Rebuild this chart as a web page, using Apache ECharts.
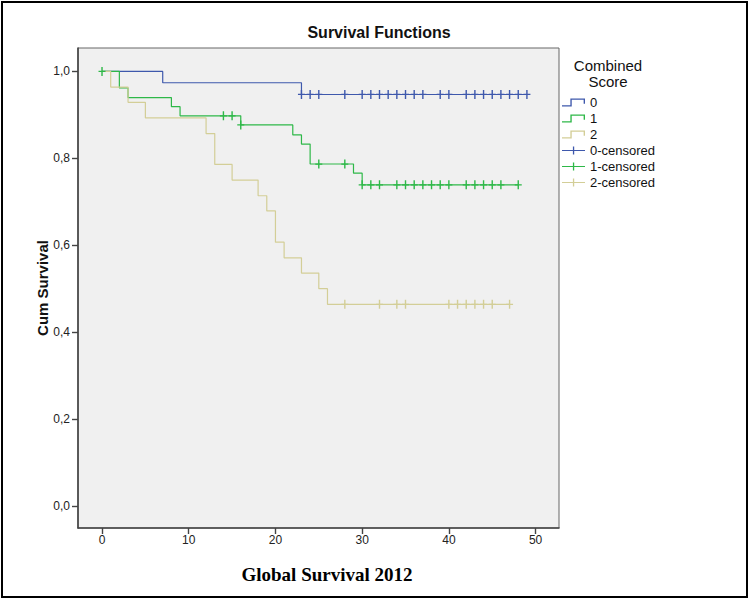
<!DOCTYPE html>
<html><head><meta charset="utf-8">
<script src="https://cdn.jsdelivr.net/npm/echarts@6/dist/echarts.min.js"></script>
<style>html,body{margin:0;padding:0;background:#fff}#c{width:750px;height:602px}</style>
</head><body><div id="c"></div>
<script>
// ---- data ----
const xTicks = [0, 10, 20, 30, 40, 50];
const yTicks = [0, 0.2, 0.4, 0.6, 0.8, 1.0];
const groupNames = ['0', '1', '2'];
const censNames = ['0-censored', '1-censored', '2-censored'];
// Kaplan-Meier steps: times and survival after the event at that time
const times0 = [0, 7, 23, 49];
const surv0  = [1, 0.974, 0.947, 0.947];
const times1 = [0, 2, 3, 8, 9, 16, 22, 23, 24, 29, 30, 48];
const surv1  = [1, 0.962, 0.940, 0.919, 0.898, 0.877, 0.854, 0.833, 0.787, 0.766, 0.739, 0.739];
const times2 = [0, 1, 3, 5, 12, 13, 15, 18, 19, 20, 21, 23, 25, 26, 47];
const surv2  = [1, 0.964, 0.929, 0.893, 0.857, 0.786, 0.750, 0.714, 0.679, 0.607, 0.571, 0.536, 0.500, 0.464, 0.464];
// censored times
const cens0 = [23, 24, 25, 28, 30, 31, 32, 33, 34, 35, 36, 37, 39, 40, 42, 43, 44, 45, 46, 47, 48, 49];
const cens1 = [0, 14, 15, 16, 25, 28, 30, 31, 32, 34, 35, 36, 37, 38, 39, 40, 42, 43, 44, 45, 46, 48];
const cens2 = [28, 32, 34, 35, 40, 41, 42, 43, 44, 45, 47];

const colors = ['#3E58AC', '#2EB848', '#D3CE97'];

function stepData(ts, ss) { return ts.map((t, i) => [t, ss[i]]); }
function survAt(ts, ss, t) { let v = ss[0]; for (let i = 0; i < ts.length; i++) { if (ts[i] <= t) v = ss[i]; } return v; }
function censData(cs, ts, ss) { return cs.map(t => [t, survAt(ts, ss, t)]); }

const stepIcon = 'path://M0,7.7 L8,7.7 L8,0 L22,0 L22,6 L20.7,6 L20.7,1.3 L9.3,1.3 L9.3,9 L0,9 Z';
const censIcon = 'path://M0,3.9 L10.9,3.9 L10.9,0 L12.2,0 L12.2,3.9 L23,3.9 L23,5.1 L12.2,5.1 L12.2,9 L10.9,9 L10.9,5.1 L0,5.1 Z';
const plusSym = 'path://M0,4.3 L3.2,4.3 L3.2,0 L4.8,0 L4.8,4.3 L8,4.3 L8,5.7 L4.8,5.7 L4.8,10 L3.2,10 L3.2,5.7 L0,5.7 Z';

const curves = [[times0, surv0], [times1, surv1], [times2, surv2]];
const censs = [cens0, cens1, cens2];

const series = [];
curves.forEach((c, i) => {
  series.push({
    name: groupNames[i], type: 'line', step: 'end', data: stepData(c[0], c[1]),
    symbol: 'none', color: colors[i], lineStyle: { color: colors[i], width: 1.2 },
    silent: true, animation: false, z: 2
  });
});
censs.forEach((cs, i) => {
  series.push({
    name: censNames[i], type: 'scatter', data: censData(cs, curves[i][0], curves[i][1]),
    symbol: plusSym, symbolSize: [7, 9], color: colors[i],
    itemStyle: { color: colors[i], opacity: 1 }, silent: true, animation: false, z: 3
  });
});

const font = 'Liberation Sans, Arial, sans-serif';
const chart = echarts.init(document.getElementById('c'), null, { renderer: 'svg' });
chart.setOption({
  animation: false,
  backgroundColor: '#ffffff',
  grid: { left: 78, right: 191, top: 48, bottom: 74, show: true, backgroundColor: '#F0F0F0', borderColor: '#666', borderWidth: 1 },
  xAxis: {
    type: 'value', min: -2.77, max: 52.7,
    axisLine: { show: true, onZero: false, lineStyle: { color: '#444', width: 1.6 } },
    axisTick: { show: true, customValues: xTicks, length: 6, lineStyle: { color: '#444', width: 1.4 } },
    axisLabel: { customValues: xTicks, margin: 6, fontSize: 12, color: '#222', fontFamily: font },
    splitLine: { show: false }
  },
  yAxis: {
    type: 'value', min: -0.0507, max: 1.054,
    axisLine: { show: true, onZero: false, lineStyle: { color: '#444', width: 1.6 } },
    axisTick: { show: true, customValues: yTicks, length: 6, lineStyle: { color: '#444', width: 1.4 } },
    axisLabel: { customValues: yTicks, margin: 8, fontSize: 12, color: '#222', fontFamily: font,
      formatter: v => v.toFixed(1).replace('.', ',') },
    splitLine: { show: false }
  },
  legend: {
    orient: 'vertical', left: 562, top: 96, padding: 0, itemGap: 3,
    itemWidth: 23, itemHeight: 8, symbolKeepAspect: false, selectedMode: false,
    textStyle: { fontSize: 13, lineHeight: 13, color: '#111', fontFamily: font },
    data: groupNames.map(n => ({ name: n, icon: stepIcon })).concat(censNames.map(n => ({ name: n, icon: censIcon })))
  },
  graphic: [
    { type: 'rect', shape: { x: 2, y: 2, width: 745, height: 595 }, style: { fill: 'none', stroke: '#000', lineWidth: 2 }, silent: true },
    { type: 'text', x: 379, y: 32, style: { text: 'Survival Functions', font: 'bold 16px ' + font, fill: '#111', align: 'center', verticalAlign: 'middle' } },
    { type: 'text', x: 608, y: 73, style: { text: 'Combined\nScore', font: '15px ' + font, lineHeight: 16, fill: '#111', align: 'center', verticalAlign: 'middle' } },
    { type: 'text', x: 327, y: 574, style: { text: 'Global Survival 2012', font: 'bold 19px Liberation Serif, Times New Roman, serif', fill: '#000', align: 'center', verticalAlign: 'middle' } },
    { type: 'text', x: 42, y: 288, rotation: Math.PI / 2, style: { text: 'Cum Survival', font: 'bold 15px ' + font, fill: '#111', align: 'center', verticalAlign: 'middle' } }
  ],
  series: series
});
</script></body></html>
